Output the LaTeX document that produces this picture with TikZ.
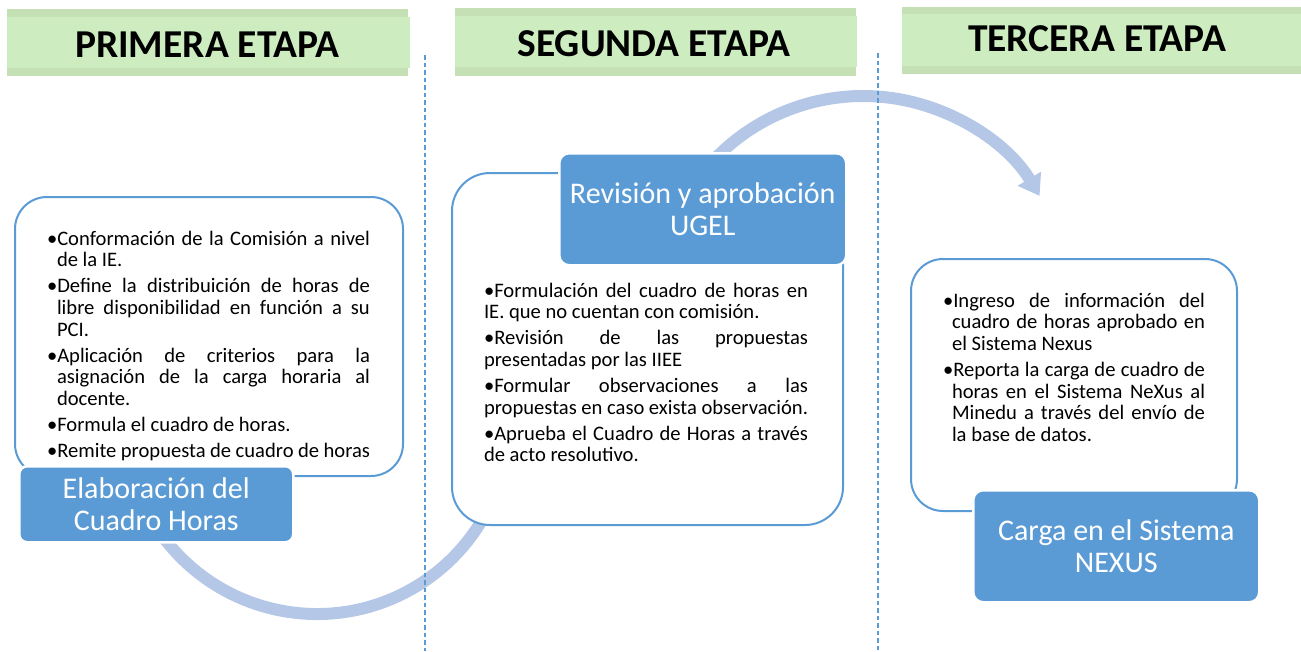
\documentclass[tikz,border=0pt]{standalone}
\usepackage{fontspec}
\setmainfont{Carlito}
\usetikzlibrary{arrows.meta}
\definecolor{hdrdark}{RGB}{197,224,180}
\definecolor{hdrlight}{RGB}{205,237,193}
\definecolor{accent}{RGB}{91,155,213}
\definecolor{arrowblue}{RGB}{180,199,231}
\newenvironment{hanglist}[1]{\begin{list}{\textbullet}{%
  \setlength{\leftmargin}{#1}\setlength{\labelwidth}{#1}\setlength{\labelsep}{0pt}%
  \setlength{\itemsep}{4.3pt}\setlength{\parsep}{0pt}\setlength{\topsep}{0pt}%
  \setlength{\partopsep}{0pt}\setlength{\itemindent}{0pt}\setlength{\listparindent}{0pt}%
  \setlength{\rightmargin}{0pt}\renewcommand{\makelabel}[1]{##1\hfil}}}{\end{list}}
\newcommand{\bodyfont}{\fontsize{20.6}{21.7}\selectfont\tolerance=9999\hbadness=10000\hfuzz=3pt\emergencystretch=2em}
\begin{document}
\begin{tikzpicture}[x=1pt,y=-1pt,
  hdrouter/.style={fill=hdrdark, draw=none, inner sep=0pt, outer sep=0pt, anchor=north west},
  hdrinner/.style={fill=hdrlight, draw=none, inner sep=0pt, outer sep=0pt, anchor=north west},
  hdrtext/.style={inner sep=0pt, font=\fontsize{39.5}{44}\selectfont\bfseries},
  contentbox/.style={draw=accent, line width=2pt, fill=white, anchor=north west, inner sep=0pt},
  stagebox/.style={fill=accent, draw=white, line width=2.5pt, rounded corners=8pt, anchor=north west,
    text=white, align=center, inner sep=0pt, font=\fontsize{30}{32}\selectfont},
  bodytext/.style={anchor=base west, inner sep=0pt, outer sep=0pt},
  divider/.style={draw=accent, line width=1.5pt, dash pattern=on 4.5pt off 3pt},
  flowarrow/.style={draw=arrowblue, line width=12pt}
]
\useasboundingbox (0,0) rectangle (1301,651);
% headers
\node[hdrouter, minimum width=401pt, minimum height=67pt] (h1o) at (7,9) {};
\node[hdrinner, minimum width=403pt, minimum height=51pt] (h1i) at (7,17) {};
\node[hdrtext] (h1) at (207.5,45) {PRIMERA ETAPA};
\node[hdrouter, minimum width=401pt, minimum height=68pt] (h2o) at (455,8) {};
\node[hdrinner, minimum width=402pt, minimum height=51pt] (h2i) at (455,16) {};
\node[hdrtext] (h2) at (654,43.5) {SEGUNDA ETAPA};
\node[hdrouter, minimum width=401pt, minimum height=67pt] (h3o) at (902,7) {};
\node[hdrinner, minimum width=401pt, minimum height=52pt] (h3i) at (902,14) {};
\node[hdrtext] (h3) at (1097,38.5) {TERCERA ETAPA};
% flow arrow
\coordinate (a1) at ({317+192*cos(150)},{422+192*sin(150)});
\coordinate (a2) at ({863+206*cos(-140)},{302+206*sin(-140)});
\draw[flowarrow] (a1) arc[start angle=150, end angle=20, radius=192];
\draw[flowarrow, -{Triangle[width=26pt,length=20pt]}] (a2) arc[start angle=-140, end angle=-31, radius=206];
% dividers
\coordinate (d1t) at (425,55); \coordinate (d1b) at (425,651);
\coordinate (d2t) at (878,53); \coordinate (d2b) at (878,651);
\draw[divider] (d1t) -- (d1b);
\draw[divider] (d2t) -- (d2b);
% content boxes
\node[contentbox, rounded corners=32pt, minimum width=388pt, minimum height=279pt] (c1) at (14,196) {};
\node[contentbox, rounded corners=38pt, minimum width=391pt, minimum height=352pt] (c2) at (451,172) {};
\node[contentbox, rounded corners=32pt, minimum width=326pt, minimum height=252pt] (c3) at (910,258) {};
% stage boxes
\node[stagebox, minimum width=274pt, minimum height=76pt] (s1) at (18,465) {Elaboración del\\Cuadro Horas};
\node[stagebox, rounded corners=10pt, minimum width=287pt, minimum height=112pt] (s2) at (558,152) {Revisión y aprobación\\UGEL};
\node[stagebox, rounded corners=10pt, minimum width=286pt, minimum height=112pt] (s3) at (972,489) {Carga en el Sistema\\NEXUS};
% texts
\node[bodytext] (t1) at (47,245) {\begin{minipage}[t]{323pt}\bodyfont
\begin{hanglist}{10pt}
\item Conformación de la Comisión a nivel\linebreak de la IE.
\item Define la distribuición de horas de\linebreak libre disponibilidad en función a su\linebreak PCI.
\item Aplicación de criterios para la\linebreak asignación de la carga horaria al\linebreak docente.
\item Formula el cuadro de horas.
\item Remite propuesta de cuadro de horas
\end{hanglist}\end{minipage}};
\node[bodytext] (t2) at (484,297) {\begin{minipage}[t]{324pt}\bodyfont\parindent=0pt\parskip=4.3pt
\textbullet Formulación del cuadro de horas en\linebreak IE. que no cuentan con comisión.\par
\textbullet Revisión de las propuestas\linebreak presentadas por las IIEE\par
\textbullet Formular observaciones a las\linebreak propuestas en caso exista observación.\par
\textbullet Aprueba el Cuadro de Horas a través\linebreak de acto resolutivo.\par
\end{minipage}};
\node[bodytext] (t3) at (943,307) {\begin{minipage}[t]{262pt}\bodyfont
\begin{hanglist}{9pt}
\item Ingreso de información del\linebreak cuadro de horas aprobado en\linebreak el Sistema Nexus
\item Reporta la carga de cuadro de\linebreak horas en el Sistema NeXus al\linebreak Minedu a través del envío de\linebreak la base de datos.
\end{hanglist}\end{minipage}};
\end{tikzpicture}
\end{document}
